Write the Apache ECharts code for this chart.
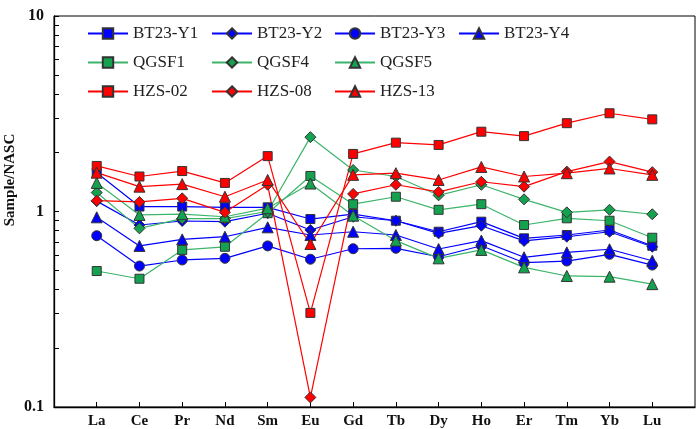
<!DOCTYPE html>
<html><head><meta charset="utf-8">
<script src="https://cdn.jsdelivr.net/npm/echarts@6/dist/echarts.min.js"></script>
<style>html,body{margin:0;padding:0;background:#fff}#c{width:699px;height:429px}</style>
</head><body><div id="c"></div>
<script>
const categories = ['La','Ce','Pr','Nd','Sm','Eu','Gd','Tb','Dy','Ho','Er','Tm','Yb','Lu'];
const BT23_Y1 = [1.58,1.06,1.06,1.05,1.05,0.915,0.97,0.897,0.788,0.887,0.729,0.758,0.804,0.668];
const BT23_Y2 = [1.13,0.853,0.894,0.887,0.98,0.804,0.94,0.897,0.773,0.846,0.707,0.743,0.788,0.66];
const BT23_Y3 = [0.752,0.526,0.565,0.576,0.667,0.57,0.645,0.648,0.587,0.668,0.547,0.558,0.604,0.532];
const BT23_Y4 = [0.934,0.667,0.72,0.743,0.83,0.758,0.788,0.758,0.643,0.71,0.583,0.618,0.641,0.56];
const QGSF1 = [0.496,0.453,0.636,0.66,0.98,1.52,1.09,1.19,1.02,1.09,0.853,0.923,0.897,0.734];
const QGSF4 = [1.25,0.82,0.92,0.92,1.0,2.40,1.63,1.51,1.21,1.37,1.154,0.99,1.02,0.968];
const QGSF5 = [1.40,0.96,0.97,0.94,1.04,1.39,0.952,0.71,0.576,0.636,0.518,0.468,0.464,0.425];
const HZS_02 = [1.71,1.51,1.61,1.40,1.92,0.303,1.97,2.25,2.19,2.56,2.43,2.83,3.18,2.96];
const HZS_08 = [1.136,1.12,1.168,0.99,1.37,0.112,1.23,1.37,1.26,1.42,1.34,1.6,1.80,1.59];
const HZS_13 = [1.58,1.34,1.38,1.19,1.45,0.682,1.54,1.57,1.45,1.69,1.51,1.57,1.66,1.54];
const yTickValues = [0.1,0.2,0.3,0.4,0.5,0.6,0.7,0.8,0.9,1,2,3,4,5,6,7,8,9,10];

const BLUE = '#0000FF', GREEN_M = '#14A150', GREEN_L = '#3CB46A', RED = '#FF0000';
const FONT = "'Liberation Serif', 'Times New Roman', serif";

const seriesDefs = [
  {name:'BT23-Y1', data:BT23_Y1, sym:'rect', size:9, fill:BLUE, line:BLUE},
  {name:'BT23-Y2', data:BT23_Y2, sym:'diamond', size:11, fill:BLUE, line:BLUE},
  {name:'BT23-Y3', data:BT23_Y3, sym:'circle', size:10, fill:BLUE, line:BLUE},
  {name:'BT23-Y4', data:BT23_Y4, sym:'triangle', size:11, fill:BLUE, line:BLUE},
  {name:'QGSF1', data:QGSF1, sym:'rect', size:9, fill:GREEN_M, line:GREEN_L},
  {name:'QGSF4', data:QGSF4, sym:'diamond', size:11, fill:GREEN_M, line:GREEN_L},
  {name:'QGSF5', data:QGSF5, sym:'triangle', size:11, fill:GREEN_M, line:GREEN_L},
  {name:'HZS-02', data:HZS_02, sym:'rect', size:9, fill:RED, line:RED},
  {name:'HZS-08', data:HZS_08, sym:'diamond', size:11, fill:RED, line:RED},
  {name:'HZS-13', data:HZS_13, sym:'triangle', size:11, fill:RED, line:RED}
];

const legendPos = [
  [87,34],[211,34],[334,34],[458,34],
  [87,63],[211,63],[334,63],
  [87,92],[211,92],[334,92]
];

const chart = echarts.init(document.getElementById('c'), null, {renderer:'canvas'});
const option = {
  animation:false,
  backgroundColor:'#fff',
  grid:{left:54, right:4, top:16, bottom:22, show:true, borderColor:'#000', borderWidth:1, backgroundColor:'transparent'},
  legend: seriesDefs.map((s,i)=>({
    data:[s.name], left:legendPos[i][0], top:legendPos[i][1]-9, padding:0,
    itemWidth:40, itemHeight:13, itemGap:0,
    textStyle:{fontFamily:FONT, fontSize:17, color:'#222'}
  })),
  xAxis:{
    type:'value', min:0, max:15, interval:1,
    splitLine:{show:false},
    axisLine:{show:true, onZero:false, lineStyle:{color:'#000', width:1.3}},
    axisTick:{show:true, inside:true, length:5, lineStyle:{color:'#000'}, customValues:categories.map((c,i)=>i+1)},
    axisLabel:{fontFamily:FONT, fontWeight:'bold', fontSize:15, color:'#111', margin:7,
      customValues:categories.map((c,i)=>i+1),
      formatter:(v)=>categories[Math.round(v)-1] || ''}
  },
  yAxis:{
    type:'log', logBase:10, min:0.1, max:10,
    splitLine:{show:false},
    axisLine:{show:true, lineStyle:{color:'#000', width:1.3}},
    axisTick:{show:true, inside:true, length:5, lineStyle:{color:'#000'}, customValues:yTickValues},
    axisLabel:{fontFamily:FONT, fontWeight:'bold', fontSize:16, color:'#111', margin:10,
      customValues:[0.1,1,10], formatter:(v)=>String(v)}
  },
  graphic:[{
    type:'text', x:10, y:180, rotation:Math.PI/2,
    style:{text:'Sample/NASC', fontFamily:FONT, fontWeight:'bold', fontSize:15, fill:'#111', textAlign:'center', textVerticalAlign:'middle'}
  }],
  series: seriesDefs.map(s=>({
    name:s.name, type:'line', data:s.data.map((v,i)=>[i+1,v]),
    symbol:s.sym, symbolSize:s.size, showSymbol:true,
    lineStyle:{color:s.line, width:1.2},
    itemStyle:{color:s.fill, borderColor:'#333', borderWidth:1},
    emphasis:{disabled:true}
  }))
};
chart.setOption(option);
</script></body></html>
